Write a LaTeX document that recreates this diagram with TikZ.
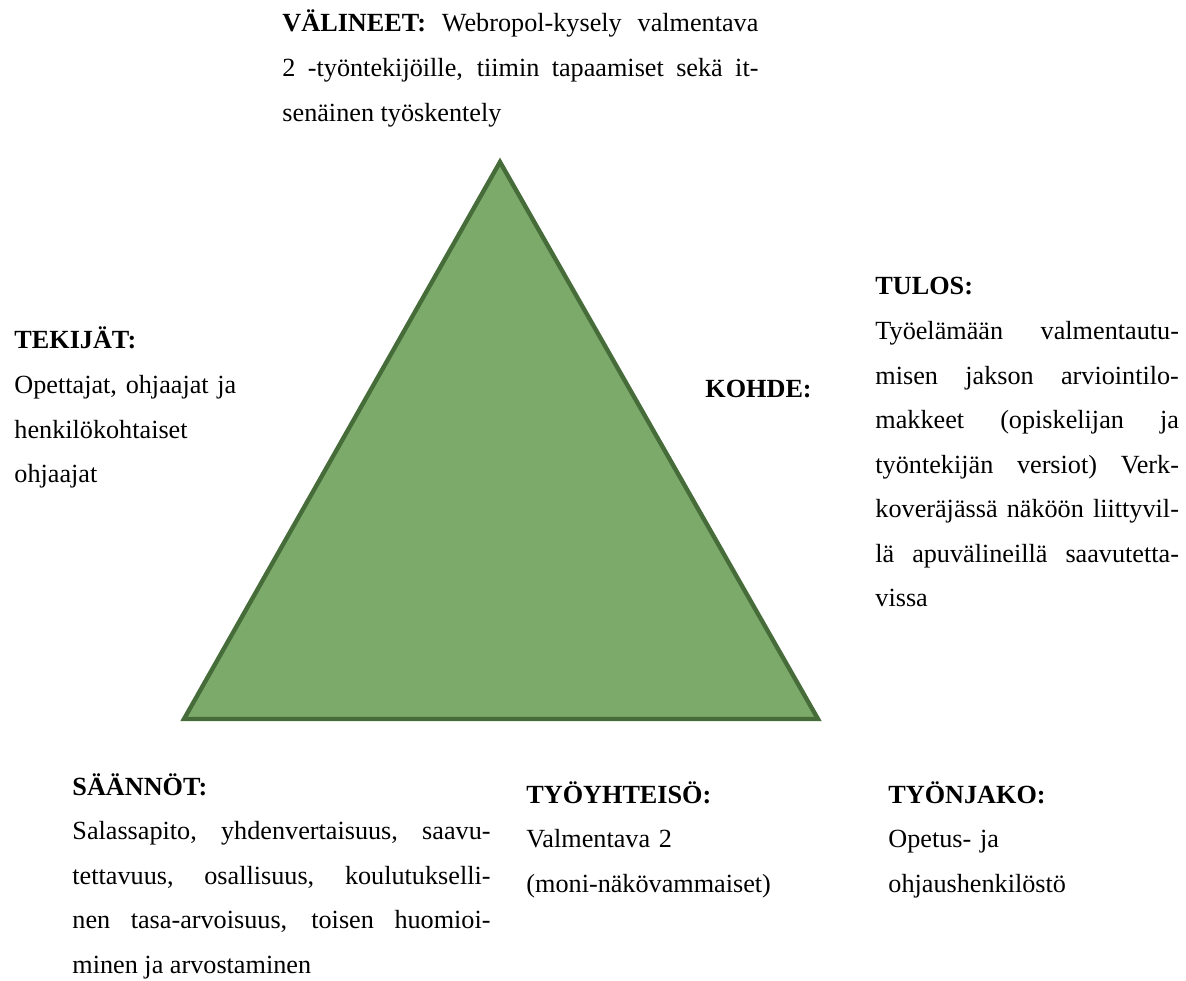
\documentclass[tikz,border=0pt]{standalone}
\usepackage{fontspec}
\setmainfont{Liberation Serif}
\usepackage{tikz}
\usetikzlibrary{positioning}

\definecolor{trifill}{RGB}{124,170,106}
\definecolor{triedge}{RGB}{70,108,58}

\begin{document}
\begin{tikzpicture}[
			x=0.458pt, y=-0.458pt,
			textbox/.style={anchor=base west, inner sep=0pt, align=justify, font=\fontsize{12pt}{20.4pt}\selectfont},
			plainbox/.style={anchor=base west, inner sep=0pt, align=left, text width=120pt, font=\fontsize{12pt}{20.4pt}\selectfont},
		]
			\useasboundingbox (0,0) rectangle (1186,981);
			\hyphenpenalty=10000
			\tolerance=10000

			%Triangle
			\coordinate (apex)	at (500,162);
			\coordinate (left)	at (184,719);
			\coordinate (right)	at (818,719);
			\draw[triedge, line width=2pt, line join=miter, fill=trifill] (apex) -- (left) -- (right) -- cycle;

			%Nodes
			\node[textbox, text width=218pt]	(valineet)	at (282,32)
				{\textbf{VÄLINEET:} Webropol-kysely valmentava\linebreak 2 -työntekijöille, tiimin tapaamiset sekä it-\linebreak senäinen työskentely};
			\node[plainbox]	(tekijat)	at (14,349)
				{\textbf{TEKIJÄT:}\\ Opettajat, ohjaajat ja\\ henkilökohtaiset\\ ohjaajat};
			\node[plainbox]	(kohde)		at (705,398)	{\textbf{KOHDE:}};
			\node[textbox, text width=139pt]	(tulos)		at (875,295)
				{\textbf{TULOS:}\\ Työelämään valmentautu-\linebreak misen jakson arviointilo-\linebreak makkeet (opiskelijan ja\linebreak työntekijän versiot) Verk-\linebreak koveräjässä näköön liittyvil-\linebreak lä apuvälineillä saavutetta-\linebreak vissa};
			\node[textbox, text width=191.5pt]	(saannot)	at (72,795)
				{\textbf{SÄÄNNÖT:}\\ Salassapito, yhdenvertaisuus, saavu-\linebreak tettavuus, osallisuus, koulutukselli-\linebreak nen tasa-arvoisuus, toisen huomioi-\linebreak minen ja arvostaminen};
			\node[plainbox]	(tyoyhteiso)	at (526,803)
				{\textbf{TYÖYHTEISÖ:}\\ Valmentava 2\\ (moni-näkövammaiset)};
			\node[plainbox]	(tyonjako)	at (888,803)
				{\textbf{TYÖNJAKO:}\\ Opetus- ja\\ ohjaushenkilöstö};

		\end{tikzpicture}
\end{document}
